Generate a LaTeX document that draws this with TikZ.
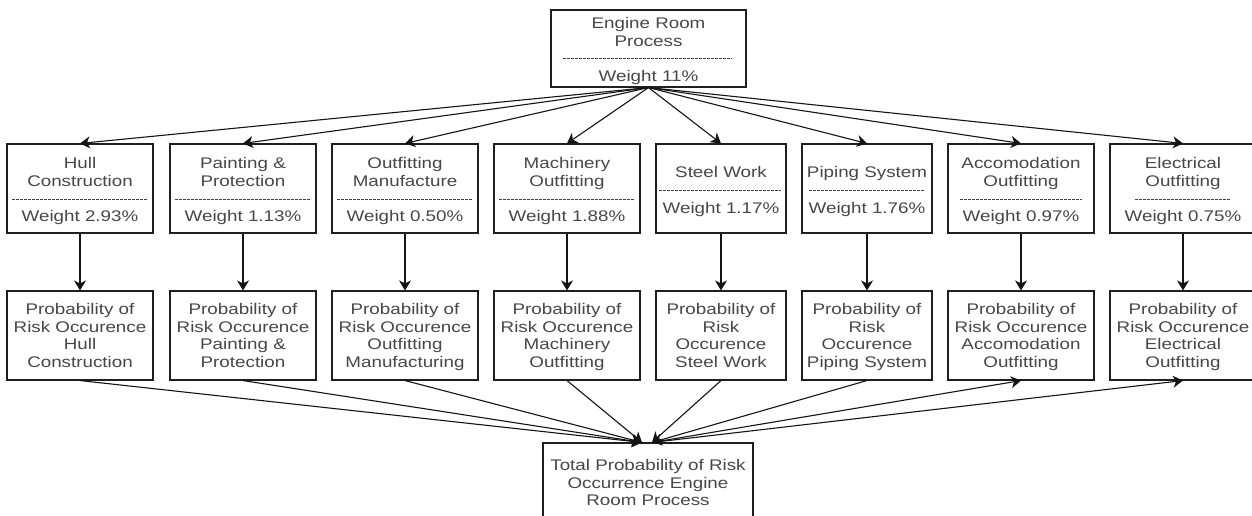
\documentclass[tikz,border=0pt]{standalone}
\usepackage{fontspec}
\setmainfont{Liberation Sans}[FakeStretch=1.22]
\usetikzlibrary{arrows.meta}
\newcommand{\ml}[1]{\begin{tabular}[t]{@{}c@{}}#1\end{tabular}}
\tikzset{
  box/.style={draw=black!88, line width=1.1pt, minimum width=146pt, minimum height=89pt, inner sep=0pt},
  txt/.style={text=black!72, anchor=base, inner sep=0pt, font=\fontsize{15.4}{17.7}\selectfont},
  sep/.style={draw=black!75, line width=0.8pt, dash pattern=on 2.6pt off 1.4pt},
  arr/.style={draw=black!92, line width=1.1pt, -{Stealth[length=10pt,width=12pt,inset=3pt]}}
}
\begin{document}
\begin{tikzpicture}[x=1pt,y=-1pt]
\useasboundingbox (0,0) rectangle (1252,516);
\clip (0,0) rectangle (1252,516);
\fill[white] (0,0) rectangle (1252,516);

% top box
\node[box, minimum width=195pt, minimum height=77pt] (top) at (648.5,48.5) {};
\node[txt] (topT) at (648.5,28.5) {\ml{Engine Room\\Process}};
\draw[sep] (563,58.5) -- (732,58.5);
\node[txt] (topW) at (648.5,81.5) {Weight 11\%};

% middle row
\node[box] (hull) at (80,188.5) {};
\node[txt] (hullT) at (80,168.5) {\ml{Hull\\Construction}};
\draw[sep] (12,199) -- (148,199);
\node[txt] (hullW) at (80,221.5) {Weight 2.93\%};

\node[box] (paint) at (243,188.5) {};
\node[txt] (paintT) at (243,168.5) {\ml{Painting \&\\Protection}};
\draw[sep] (175,199) -- (311,199);
\node[txt] (paintW) at (243,221.5) {Weight 1.13\%};

\node[box] (outf) at (405,188.5) {};
\node[txt] (outfT) at (405,168.5) {\ml{Outfitting\\Manufacture}};
\draw[sep] (337,199) -- (472,199);
\node[txt] (outfW) at (405,221.5) {Weight 0.50\%};

\node[box] (mach) at (567,188.5) {};
\node[txt] (machT) at (567,168.5) {\ml{Machinery\\Outfitting}};
\draw[sep] (499,199) -- (634,199);
\node[txt] (machW) at (567,221.5) {Weight 1.88\%};

\node[box, minimum width=130pt] (steel) at (721,188.5) {};
\node[txt] (steelT) at (721,177.5) {Steel Work};
\draw[sep] (659,190) -- (781,190);
\node[txt] (steelW) at (721,213.5) {Weight 1.17\%};

\node[box, minimum width=130pt] (pipe) at (867,188.5) {};
\node[txt] (pipeT) at (867,177.5) {Piping System};
\draw[sep] (809,190) -- (924,190);
\node[txt] (pipeW) at (867,213.5) {Weight 1.76\%};

\node[box] (acc) at (1021,188.5) {};
\node[txt] (accT) at (1021,168.5) {\ml{Accomodation\\Outfitting}};
\draw[sep] (960,199) -- (1082,199);
\node[txt] (accW) at (1021,221.5) {Weight 0.97\%};

\node[box] (elec) at (1183,188.5) {};
\node[txt] (elecT) at (1183,168.5) {\ml{Electrical\\Outfitting}};
\draw[sep] (1135,199) -- (1230,199);
\node[txt] (elecW) at (1183,221.5) {Weight 0.75\%};

% bottom row
\node[box] (phull) at (80,335.5) {};
\node[txt] at (80,314.5) {\ml{Probability of\\Risk Occurence\\Hull\\Construction}};
\node[box] (ppaint) at (243,335.5) {};
\node[txt] at (243,314.5) {\ml{Probability of\\Risk Occurence\\Painting \&\\Protection}};
\node[box] (poutf) at (405,335.5) {};
\node[txt] at (405,314.5) {\ml{Probability of\\Risk Occurence\\Outfitting\\Manufacturing}};
\node[box] (pmach) at (567,335.5) {};
\node[txt] at (567,314.5) {\ml{Probability of\\Risk Occurence\\Machinery\\Outfitting}};
\node[box, minimum width=130pt] (psteel) at (721,335.5) {};
\node[txt] at (721,314.5) {\ml{Probability of\\Risk\\Occurence\\Steel Work}};
\node[box, minimum width=130pt] (ppipe) at (867,335.5) {};
\node[txt] at (867,314.5) {\ml{Probability of\\Risk\\Occurence\\Piping System}};
\node[box] (pacc) at (1021,335.5) {};
\node[txt] at (1021,314.5) {\ml{Probability of\\Risk Occurence\\Accomodation\\Outfitting}};
\node[box] (pelec) at (1183,335.5) {};
\node[txt] at (1183,314.5) {\ml{Probability of\\Risk Occurence\\Electrical\\Outfitting}};

% total
\node[box, minimum width=210pt, minimum height=80pt] (total) at (648,483) {};
\node[txt] at (648,470.5) {\ml{Total Probability of Risk\\Occurrence Engine\\Room Process}};

% connectors top -> middle
\foreach \n in {hull,paint,outf,mach,steel,pipe,acc,elec}
  \draw[arr] (top.south) -- (\n.north);
% middle -> bottom
\draw[arr] (hull.south) -- (phull.north);
\draw[arr] (paint.south) -- (ppaint.north);
\draw[arr] (outf.south) -- (poutf.north);
\draw[arr] (mach.south) -- (pmach.north);
\draw[arr] (steel.south) -- (psteel.north);
\draw[arr] (pipe.south) -- (ppipe.north);
\draw[arr] (acc.south) -- (pacc.north);
\draw[arr] (elec.south) -- (pelec.north);
% bottom -> total
\coordinate (tl) at ([xshift=-6pt]total.north);
\coordinate (tr) at ([xshift=4pt]total.north);
\foreach \n in {phull,ppaint,poutf,pmach}
  \draw[arr] (\n.south) -- (tl);
\foreach \n in {psteel,ppipe}
  \draw[arr] (\n.south) -- (tr);
\draw[arr] (tr) -- (pacc.south);
\draw[arr] (tr) -- (pelec.south);
\end{tikzpicture}
\end{document}
